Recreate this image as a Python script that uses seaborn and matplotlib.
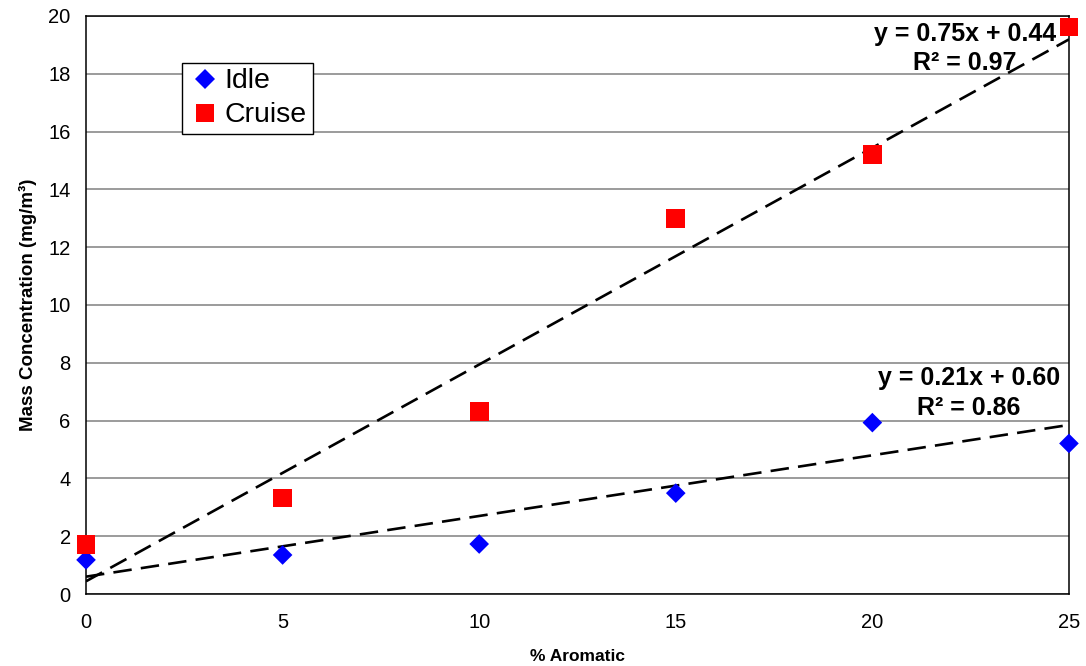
import numpy as np
import pandas as pd
import seaborn as sns
import matplotlib.pyplot as plt

# data
aromatic = [0, 5, 10, 15, 20, 25]
idle = [1.18, 1.35, 1.73, 3.49, 5.93, 5.21]
cruise = [1.72, 3.32, 6.31, 13.0, 15.21, 19.62]

# trend line coefficients as printed on the chart
idle_fit = [0.21, 0.60]
cruise_fit = [0.75, 0.44]
idle_label = 'y = 0.21x + 0.60\nR² = 0.86'
cruise_label = 'y = 0.75x + 0.44\nR² = 0.97'

x_ticks = [0, 5, 10, 15, 20, 25]
y_ticks = [0, 2, 4, 6, 8, 10, 12, 14, 16, 18, 20]

sns.set_style('white')
plt.rcParams['font.family'] = ['Liberation Sans', 'DejaVu Sans']
plt.rcParams['text.color'] = 'black'
plt.rcParams['axes.labelcolor'] = 'black'
plt.rcParams['xtick.color'] = 'black'
plt.rcParams['ytick.color'] = 'black'

df = pd.DataFrame({'aromatic': aromatic * 2,
                   'mass': idle + cruise,
                   'mode': ['Idle'] * len(idle) + ['Cruise'] * len(cruise)})

fig = plt.figure(figsize=(10.86, 6.66), dpi=100)
ax = fig.add_axes([0.0792, 0.1081, 0.9051, 0.8679])

# dashed trend lines
xs = np.array([min(aromatic), max(aromatic)])
for slope, icpt in (cruise_fit, idle_fit):
    ax.plot(xs, slope * xs + icpt, color='black', lw=1.9,
            dashes=(7, 3.5), zorder=2)

sns.scatterplot(data=df, x='aromatic', y='mass', hue='mode', style='mode',
                palette={'Idle': '#0000ff', 'Cruise': '#ff0000'},
                markers={'Idle': 'D', 'Cruise': 's'},
                size='mode', sizes={'Idle': 100, 'Cruise': 180},
                linewidth=0, ax=ax, zorder=3)
for coll in ax.collections:
    coll.set_clip_on(False)

ax.set_xlim(0, 25)
ax.set_ylim(0, 20)
ax.set_xticks(x_ticks)
ax.set_yticks(y_ticks)
ax.yaxis.grid(True, color='#808080', lw=1.1)
ax.xaxis.grid(False)
ax.set_axisbelow(True)
for sp in ax.spines.values():
    sp.set_color('black')
    sp.set_linewidth(1.1)
ax.tick_params(axis='both', direction='out', length=5, width=1,
               color='black', labelsize=14.5, pad=6)
ax.tick_params(axis='x', pad=9)

ax.set_xlabel('% Aromatic', fontsize=12.5, fontweight='bold', labelpad=12)
ax.set_ylabel('Mass Concentration (mg/m³)', fontsize=13.5, fontweight='bold',
              labelpad=8)

ax.text(22.35, 18.88, cruise_label, ha='center', va='center',
        fontsize=18, fontweight='bold', linespacing=1.3, zorder=4)
ax.text(22.45, 6.95, idle_label, ha='center', va='center',
        fontsize=18, fontweight='bold', linespacing=1.3, zorder=4)

handles, labels = ax.get_legend_handles_labels()
leg = ax.legend(handles[:2], labels[:2], loc='upper left',
                bbox_to_anchor=(0.0977, 0.919), fontsize=20.5, frameon=True,
                fancybox=False, framealpha=1, edgecolor='black',
                handletextpad=0.1, labelspacing=0.28, borderpad=0.2,
                handlelength=1.2, borderaxespad=0)
leg.get_frame().set_linewidth(1)

fig.savefig('out.png', dpi=100)
